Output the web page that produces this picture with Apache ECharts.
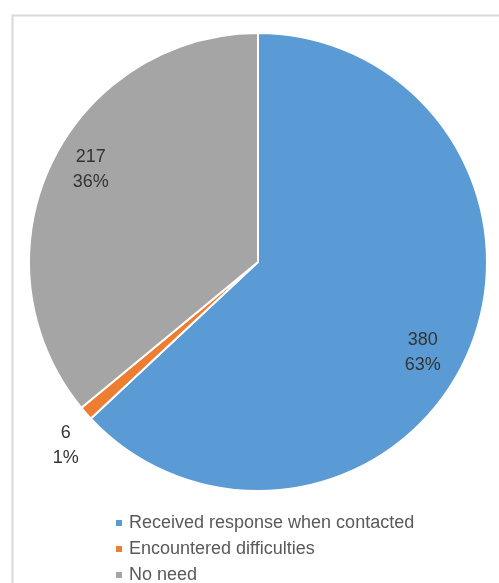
<!DOCTYPE html>
<html>
<head>
<meta charset="utf-8">
<script src="https://cdn.jsdelivr.net/npm/echarts@6/dist/echarts.min.js"></script>
<style>html,body{margin:0;padding:0;background:#fff;}#c{width:499px;height:583px;}</style>
</head>
<body>
<div id="c"></div>
<script>
const categories = ['Received response when contacted', 'Encountered difficulties', 'No need'];
const values = [380, 6, 217];
const percents = ['63%', '1%', '36%'];
const colors = ['#5B9BD5', '#ED7D31', '#A5A5A5'];
// label nudges (px) from the default inside position, per slice
const labelNudge = [[57, 44], [-104, 106], [-61, -42]];

const chart = echarts.init(document.getElementById('c'));
chart.setOption({
  animation: false,
  color: colors,
  graphic: [{
    type: 'rect', left: 10, top: 13, silent: true,
    shape: { width: 520, height: 600 },
    style: { fill: 'none', stroke: '#d9d9d9', lineWidth: 2 }
  }],
  legend: {
    orient: 'vertical', left: 109, top: 509, height: 120,
    icon: 'rect', itemWidth: 8, itemHeight: 8, itemGap: 8,
    textStyle: { fontFamily: 'Liberation Sans', fontSize: 18, color: '#595959', padding: [0, 0, 0, 1] },
    data: categories
  },
  series: [{
    type: 'pie',
    center: [258, 262],
    radius: [0, 229],
    startAngle: 90,
    clockwise: true,
    avoidLabelOverlap: false,
    itemStyle: { borderColor: '#ffffff', borderWidth: 2 },
    label: {
      show: true, position: 'inside',
      fontFamily: 'Liberation Sans', fontSize: 18, color: '#333333', lineHeight: 25,
      formatter: p => p.value + '\n' + percents[p.dataIndex]
    },
    labelLine: { show: false },
    labelLayout: p => ({ dx: labelNudge[p.dataIndex][0], dy: labelNudge[p.dataIndex][1] }),
    data: categories.map((n, i) => ({ name: n, value: values[i] }))
  }]
});
</script>
</body>
</html>
